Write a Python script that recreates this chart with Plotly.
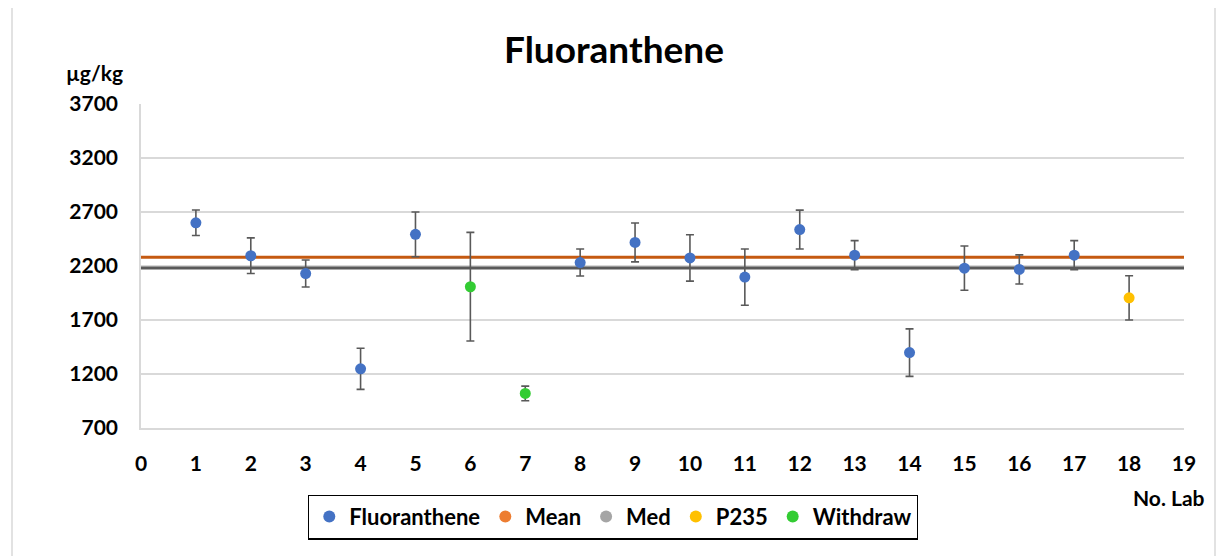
import plotly.graph_objects as go

# ---- data ----
labs_main = [1, 2, 3, 4, 5, 8, 9, 10, 11, 12, 13, 14, 15, 16, 17]
vals_main = [2600, 2295, 2130, 1248, 2493, 2232, 2418, 2275, 2097, 2537, 2300, 1398, 2180, 2168, 2300]
err_main = [118, 165, 125, 190, 207, 125, 180, 215, 260, 180, 135, 220, 205, 135, 135]

labs_p235 = [18]
vals_p235 = [1905]
err_p235 = [205]

labs_withdraw = [6, 7]
vals_withdraw = [2008, 1020]
err_withdraw = [503, 68]

line_x = [0, 19]
mean_val = 2280
med_val = 2182

x_ticks = list(range(0, 20))
y_ticks = [700, 1200, 1700, 2200, 2700, 3200, 3700]

# ---- styles ----
BLUE = "#4472C4"
ORANGE_LINE = "#C55A11"
ORANGE_DOT = "#ED7D31"
GRAY_LINE = "#595959"
GRAY_DOT = "#A5A5A5"
YELLOW = "#FFC000"
GREEN = "#33CC33"
ERR = "#595959"
FONT = "Lato"

def errbar(arr):
    return dict(type="data", array=arr, visible=True, color=ERR, thickness=1.6, width=4)

fig = go.Figure()

fig.add_trace(go.Scatter(x=line_x, y=[mean_val] * len(line_x), mode="lines",
                         line=dict(color=ORANGE_LINE, width=3), showlegend=False, hoverinfo="skip"))
fig.add_trace(go.Scatter(x=line_x, y=[med_val] * len(line_x), mode="lines",
                         line=dict(color=GRAY_LINE, width=3), showlegend=False, hoverinfo="skip"))

fig.add_trace(go.Scatter(x=labs_main, y=vals_main, mode="markers", name="Fluoranthene",
                         marker=dict(color=BLUE, size=11), error_y=errbar(err_main)))
fig.add_trace(go.Scatter(x=[None], y=[None], mode="markers", name="Mean",
                         marker=dict(color=ORANGE_DOT, size=11)))
fig.add_trace(go.Scatter(x=[None], y=[None], mode="markers", name="Med",
                         marker=dict(color=GRAY_DOT, size=11)))
fig.add_trace(go.Scatter(x=labs_p235, y=vals_p235, mode="markers", name="P235",
                         marker=dict(color=YELLOW, size=11), error_y=errbar(err_p235)))
fig.add_trace(go.Scatter(x=labs_withdraw, y=vals_withdraw, mode="markers", name="Withdraw",
                         marker=dict(color=GREEN, size=11), error_y=errbar(err_withdraw)))

OFF = 8  # page body margin
W, H = 1225 - OFF, 556 - OFF
# plot area in page pixels: x 141..1184, y 104..428
PL, PR, PT, PB = 141, 1184, 104, 428
L, T = PL - OFF, PT - OFF
R, B = W - (PR - OFF), H - (PB - OFF)
pw, ph = PR - PL, PB - PT

def px_x(x):
    return (x - PL) / pw

def px_y(y):
    return (PB - y) / ph

fig.update_layout(
    width=W, height=H,
    margin=dict(l=L, r=R, t=T, b=B),
    paper_bgcolor="white", plot_bgcolor="white",
    font=dict(family=FONT, size=21, color="#000000", weight="bold"),
    title=dict(text="Fluoranthene", font=dict(family=FONT, size=37, color="#000000", weight="bold"),
               x=(614 - OFF) / W, xanchor="center", xref="container",
               y=1 - (50 - OFF) / H, yanchor="middle", yref="container"),
    xaxis=dict(range=[0, 19], tickvals=x_ticks, showgrid=False, zeroline=False,
               showline=True, linecolor="#D9D9D9", linewidth=1.5, ticks="",
               ticklabelstandoff=16, tickfont=dict(size=21)),
    yaxis=dict(range=[700, 3700], tickvals=y_ticks, showgrid=True, gridcolor="#D9D9D9", gridwidth=1.5,
               zeroline=False, showline=True, linecolor="#D9D9D9", linewidth=1.5, ticks="",
               ticklabelstandoff=17, tickfont=dict(size=21)),
    legend=dict(orientation="h", x=px_x(308), y=px_y(517), xanchor="left", yanchor="middle",
                bordercolor="#000000", borderwidth=1.3, bgcolor="white",
                font=dict(family=FONT, size=22, weight="bold"), itemsizing="constant",
                tracegroupgap=0),
    shapes=[dict(type="rect", xref="paper", yref="paper",
                 x0=px_x(12), x1=px_x(1215), y0=px_y(620), y1=px_y(7),
                 line=dict(color="#D9D9D9", width=1.5), fillcolor="rgba(0,0,0,0)", layer="below")],
    annotations=[
        dict(text="µg/kg", xref="paper", yref="paper", x=px_x(94), y=px_y(72),
             xanchor="center", yanchor="middle", showarrow=False,
             font=dict(family=FONT, size=21, weight="bold")),
        dict(text="No. Lab", xref="paper", yref="paper", x=px_x(1169), y=px_y(497),
             xanchor="center", yanchor="middle", showarrow=False,
             font=dict(family=FONT, size=21, weight="bold")),
    ],
)

fig.write_html("out.html")
